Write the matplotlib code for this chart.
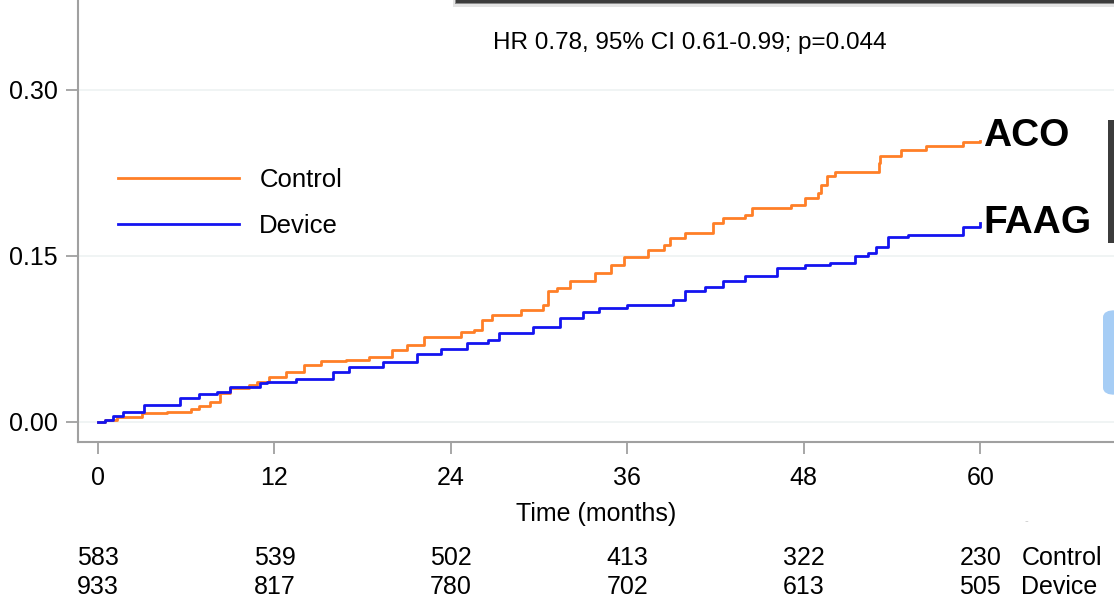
import matplotlib.pyplot as plt
import matplotlib.transforms as mtransforms
from matplotlib.patches import Rectangle, FancyBboxPatch
import numpy as np

plt.rcParams['font.family'] = ['Liberation Sans', 'DejaVu Sans']

# cumulative incidence (months, value)
control_t = [0, 0.5, 1.3, 3.0, 4.7, 6.3, 6.9, 7.6, 8.3, 9.0, 10.3, 10.8, 11.6, 12.8, 14.0, 15.2,
             16.9, 18.4, 20.0, 21.0, 22.2, 24.7, 25.6, 26.1, 26.8, 28.8, 30.3, 30.6, 31.2, 32.1,
             33.8, 34.9, 35.8, 37.4, 38.5, 38.9, 39.9, 41.8, 42.5, 44.0, 44.5, 47.1, 48.1, 49.0,
             49.2, 49.6, 50.1, 53.1, 53.2, 54.6, 56.3, 58.8, 60]
control_v = [0, 0.002, 0.0045, 0.008, 0.009, 0.012, 0.0145, 0.018, 0.026, 0.031, 0.033, 0.036,
             0.041, 0.045, 0.0515, 0.055, 0.056, 0.059, 0.065, 0.070, 0.077, 0.081, 0.083, 0.092,
             0.097, 0.101, 0.106, 0.118, 0.121, 0.127, 0.135, 0.142, 0.149, 0.155, 0.160, 0.166,
             0.171, 0.180, 0.184, 0.187, 0.193, 0.196, 0.202, 0.207, 0.214, 0.222, 0.226, 0.234,
             0.240, 0.246, 0.249, 0.253, 0.254]

device_t = [0, 0.5, 1.0, 1.7, 3.1, 5.6, 6.9, 8.1, 9.0, 11.0, 11.5, 13.5, 16.0, 17.1, 19.4, 21.7,
            23.3, 25.1, 26.5, 27.3, 29.6, 31.4, 33.0, 34.1, 36.0, 39.1, 39.9, 41.3, 42.5, 44.0,
            46.2, 48.1, 49.8, 51.5, 52.4, 52.9, 53.7, 55.1, 58.8, 60]
device_v = [0, 0.002, 0.005, 0.009, 0.015, 0.022, 0.025, 0.027, 0.032, 0.035, 0.036, 0.039,
            0.045, 0.050, 0.054, 0.061, 0.066, 0.071, 0.074, 0.080, 0.086, 0.094, 0.099, 0.103,
            0.106, 0.110, 0.118, 0.122, 0.127, 0.132, 0.139, 0.142, 0.144, 0.150, 0.153, 0.158,
            0.167, 0.169, 0.176, 0.180]

risk_times = [0, 12, 24, 36, 48, 60]
risk_control = [583, 539, 502, 413, 322, 230]
risk_device = [933, 817, 780, 702, 613, 505]

orange = '#ff7f27'
blue = '#1414f0'
gray = '#a0a0a0'
fs = 18

fig = plt.figure(figsize=(11.14, 6.03), dpi=100)
ax = fig.add_axes([0.070, 0.267, 0.930, 0.733])

ax.step(control_t, control_v, where='post', color=orange, lw=2.0, label='Control')
ax.step(device_t, device_v, where='post', color=blue, lw=2.0, label='Device')

ax.set_xlim(-1.36, 69.1)
ax.set_ylim(-0.0181, 0.3813)
ax.set_xticks(risk_times)
ax.set_yticks([0, 0.15, 0.30])
ax.set_yticklabels(['0.00', '0.15', '0.30'])
ax.yaxis.grid(True, color='#eef2f2', lw=1.2)
ax.set_axisbelow(True)
for s in ['top', 'right']:
    ax.spines[s].set_visible(False)
for s in ['left', 'bottom']:
    ax.spines[s].set_color(gray)
    ax.spines[s].set_linewidth(1.5)
ax.tick_params(axis='both', colors=gray, labelcolor='black', labelsize=fs, length=8.5, width=1.3)
ax.tick_params(axis='y', pad=6)
ax.tick_params(axis='x', pad=9)
ax.set_xlabel('Time (months)', fontsize=fs, labelpad=8.5)

ax.legend(loc='upper left', bbox_to_anchor=(118 / 1114, 1 - 168 / 603), bbox_transform=fig.transFigure,
          frameon=False, fontsize=18.5, handlelength=4.7, handletextpad=0.8, labelspacing=0.86,
          borderpad=0, borderaxespad=0)

fig.text(0.619, 1 - 43 / 603, 'HR 0.78, 95% CI 0.61-0.99; p=0.044', ha='center', va='center', fontsize=17.5)

ax.text(60.2, control_v[-1] + 0.004, 'ACO', ha='left', va='center', fontsize=28, fontweight='bold')
ax.text(60.2, device_v[-1], 'FAAG', ha='left', va='center', fontsize=28, fontweight='bold')

# numbers at risk
trans = mtransforms.blended_transform_factory(ax.transData, fig.transFigure)
for t, c, d in zip(risk_times, risk_control, risk_device):
    ax.text(t, 1 - 558 / 603, str(c), transform=trans, ha='center', va='center', fontsize=fs)
    ax.text(t, 1 - 587 / 603, str(d), transform=trans, ha='center', va='center', fontsize=fs)
ax.text(62.8, 1 - 558 / 603, 'Control', transform=trans, ha='left', va='center', fontsize=fs)
ax.text(62.8, 1 - 587 / 603, 'Device', transform=trans, ha='left', va='center', fontsize=fs)

# screenshot edges
W, H = 1114, 603
fig.patches.append(Rectangle((453 / W, 1 - 7 / H), 1, 7 / H, transform=fig.transFigure,
                             color='#e4e4e4', lw=0))
fig.patches.append(Rectangle((455 / W, 1 - 4 / H), 1, 4 / H, transform=fig.transFigure,
                             color='#8a8a8a', lw=0))
fig.patches.append(Rectangle((456 / W, 1 - 2.5 / H), 1, 2.5 / H, transform=fig.transFigure,
                             color='#3c3c3c', lw=0))
fig.patches.append(Rectangle((1108 / W, 1 - 243 / H), 6 / W, 123 / H, transform=fig.transFigure,
                             color='#3c3c3c', lw=0))
fig.patches.append(FancyBboxPatch((1103 / W, 1 - 395 / H), 20 / W, 85 / H,
                                  boxstyle='round,pad=0,rounding_size=0.012',
                                  transform=fig.transFigure, color='#a6cdf5', lw=0))
fig.text(1026 / W, 1 - 521 / H, '-', color='#c8c8c8', ha='center', va='center', fontsize=8)

fig.savefig('out.png', dpi=100)
